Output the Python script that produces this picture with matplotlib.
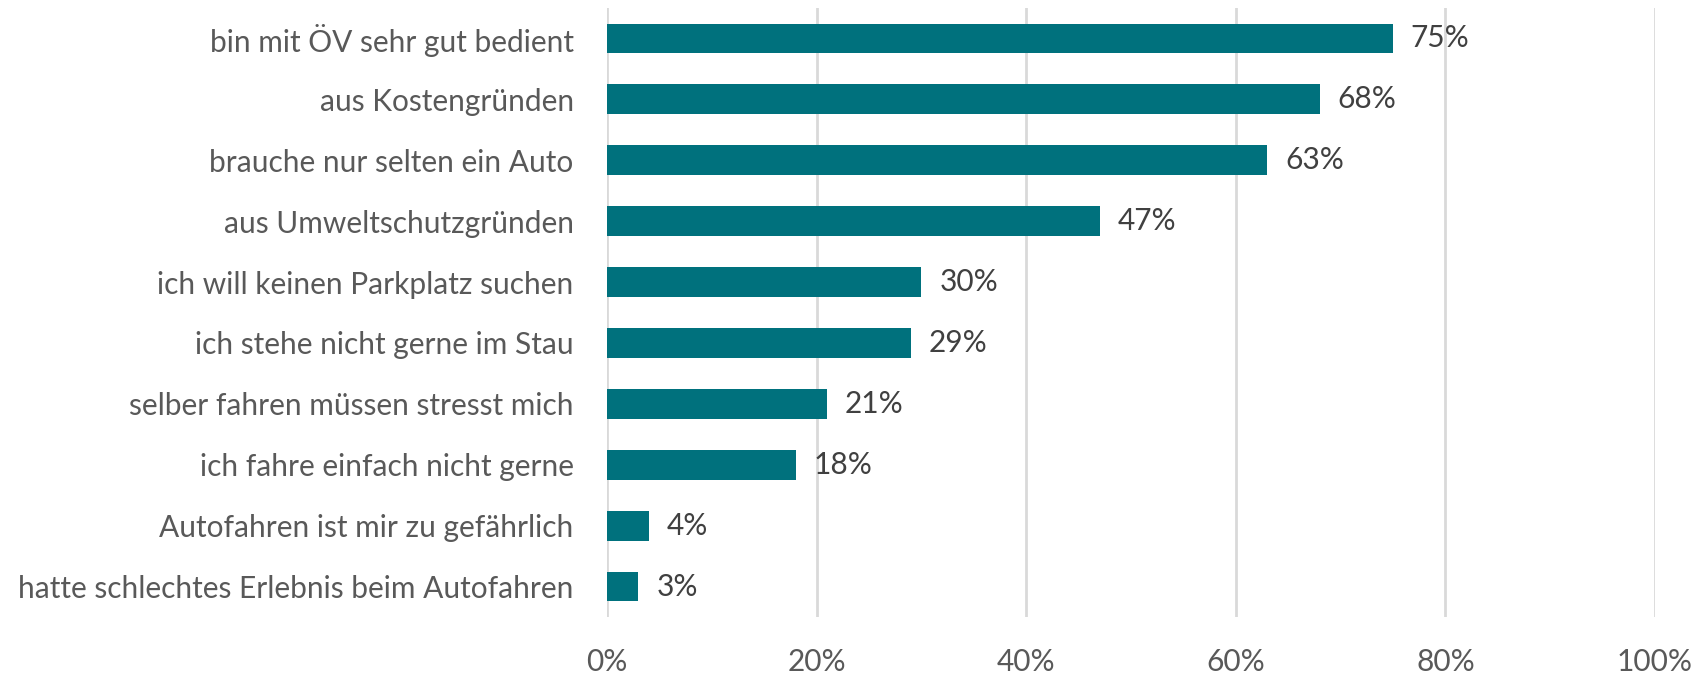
import numpy as np
import matplotlib.pyplot as plt

plt.rcParams['font.family'] = ['Lato', 'DejaVu Sans']

reasons = ['bin mit ÖV sehr gut bedient', 'aus Kostengründen',
           'brauche nur selten ein Auto', 'aus Umweltschutzgründen',
           'ich will keinen Parkplatz suchen', 'ich stehe nicht gerne im Stau',
           'selber fahren müssen stresst mich', 'ich fahre einfach nicht gerne',
           'Autofahren ist mir zu gefährlich',
           'hatte schlechtes Erlebnis beim Autofahren']
shares = [75, 68, 63, 47, 30, 29, 21, 18, 4, 3]
x_ticks = [0, 20, 40, 60, 80, 100]

fig = plt.figure(figsize=(17.07, 6.73), dpi=100)
axes = fig.add_axes([607 / 1707, 1 - 617 / 673, 1048 / 1707, 609 / 673])

ys = np.arange(len(reasons))
axes.barh(ys, shares, height=0.49, color='#00717d', zorder=3)
for y, v in zip(ys, shares):
    axes.text(v + 1.7, y, f'{v}%', va='center', ha='left',
              fontsize=21.5, color='#404040')

axes.set_ylim(len(reasons) - 0.5, -0.5)
axes.set_xlim(0, 100)
axes.set_yticks(ys)
axes.set_yticklabels(reasons, fontsize=21.5, color='#595959')
axes.set_xticks(x_ticks)
axes.set_xticklabels([f'{t}%' for t in x_ticks], fontsize=21.5, color='#595959')
axes.tick_params(axis='y', length=0, pad=24)
axes.tick_params(axis='x', length=0, pad=22)
axes.grid(axis='x', color='#d9d9d9', linewidth=2, zorder=0)
for side in ['top', 'right', 'bottom', 'left']:
    axes.spines[side].set_visible(False)

fig.savefig('out.png', dpi=100)
